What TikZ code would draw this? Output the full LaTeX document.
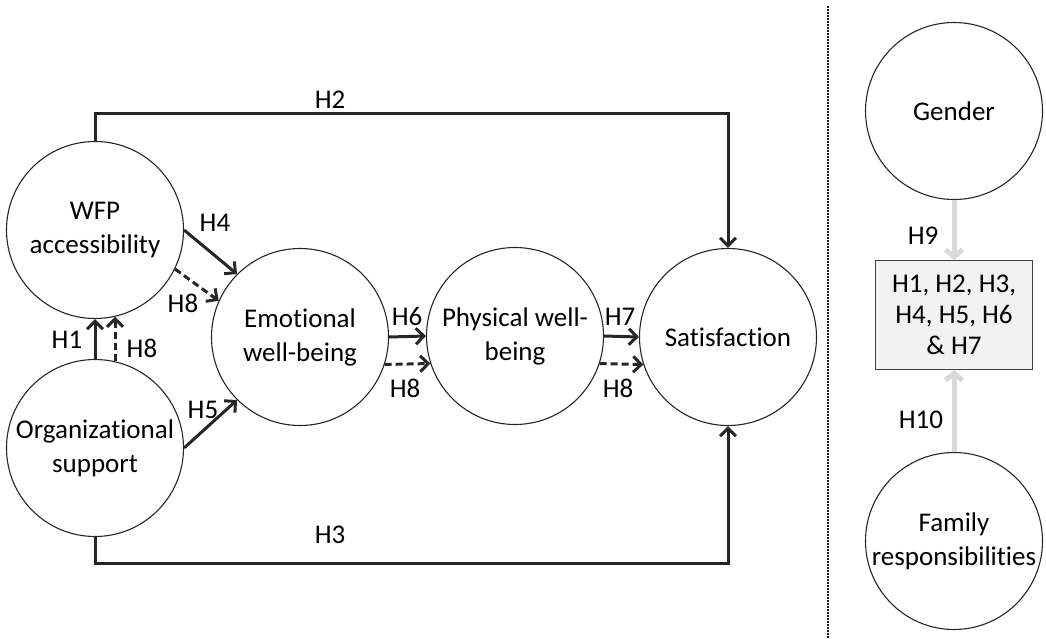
\documentclass[tikz,border=0pt]{standalone}
\usepackage{fontspec}
\setmainfont{Carlito}[Ligatures={NoCommon}]
\usetikzlibrary{arrows.meta,positioning}

\begin{document}
\begin{tikzpicture}[x=1pt,y=-1pt,>={Straight Barb[length=8pt,width=16pt]},
  font=\fontsize{27}{34}\selectfont,
  var/.style={circle,draw=black!85,line width=1.1pt,minimum size=177pt,inner sep=0pt,align=center},
  hyp/.style={->,line width=3pt,draw=black!85},
  hypdash/.style={hyp,dash pattern=on 7pt off 4pt},
  modarrow/.style={-{Straight Barb[length=7pt,width=17pt]},line width=5pt,draw=black!15},
  modbox/.style={draw=black!75,line width=1.1pt,fill=black!5,minimum width=157pt,minimum height=109pt,align=center,font=\fontsize{27}{31}\selectfont}]
  \useasboundingbox (0,0) rectangle (1046,639);
  \node[var] (wfp) at (95,230) {WFP\\accessibility};
  \node[var] (org) at (95,448) {Organizational\\support};
  \node[var] (emo) at (300,337) {Emotional\\well-being};
  \node[var] (phys) at (515,336) {Physical well-\\being};
  \node[var] (sat) at (728,337) {Satisfaction};
  \node[var] (gender) at (954,111) {Gender};
  \node[var] (family) at (954,541) {Family\\responsibilities};
  \node[modbox] (mods) at (954,315) {H1, H2, H3,\\H4, H5, H6\\\& H7};
  % direct paths
  \draw[hyp] (wfp.north) -- ++(0,-27) -| (sat.north);
  \draw[hyp] (org.south) -- ++(0,26) -| (sat.south);
  \draw[hyp] (org.north) -- (wfp.south);
  \draw[hypdash] (org.77) -- (wfp.-77);
  \draw[hyp] (wfp.east) -- (emo.135);
  \draw[hypdash] (wfp.-26) -- (emo.156);
  \draw[hyp] (org.east) -- (emo.225);
  \draw[hyp] (emo.east) -- (phys.west);
  \draw[hypdash] (emo.-18) -- (phys.198);
  \draw[hyp] (phys.east) -- (sat.west);
  \draw[hypdash] (phys.-18) -- (sat.198);
  % labels
  \node at (330,100) {H2};
  \node at (330,535) {H3};
  \node at (67,340) {H1};
  \node at (142,348) {H8};
  \node at (215,223) {H4};
  \node at (183,303) {H8};
  \node at (203,410) {H5};
  \node at (407,316) {H6};
  \node at (405,388) {H8};
  \node at (620,317) {H7};
  \node at (618,388) {H8};
  % moderators
  \draw[line width=2.5pt,draw=black!90,dash pattern=on 2pt off 1pt] (828,6) -- (828,639);
  \draw[modarrow] (gender.south) -- (mods.north);
  \draw[modarrow] (family.north) -- (mods.south);
  \node at (923,236) {H9};
  \node at (921,420) {H10};
\end{tikzpicture}
\end{document}
